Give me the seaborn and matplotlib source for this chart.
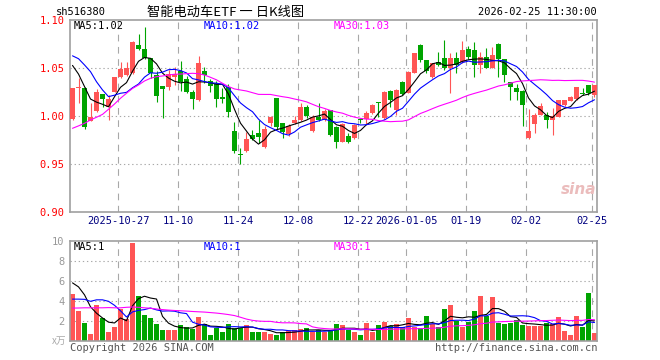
import numpy as np
import pandas as pd
import matplotlib
matplotlib.use("Agg")
import matplotlib.pyplot as plt
import seaborn as sns

# ---------------- data ----------------
opens = [0.997, 1.029, 1.030, 0.995, 1.006, 1.0233, 1.0094, 1.0257, 1.0406, 1.043,
         1.0448, 1.0743, 1.0698, 1.0604, 1.043, 1.0316, 1.031, 1.041, 1.047, 1.0385,
         1.0257, 1.017, 1.0476, 1.037, 1.035, 1.020, 1.031, 0.9847, 0.9604, 0.9639,
         0.9806, 0.9823, 0.9677, 0.9934, 1.0188, 0.9927, 0.9813, 0.9927, 0.996, 1.0094,
         0.985, 0.9997, 0.996, 1.0066, 0.9892, 0.9736, 0.9795, 0.977, 0.9965, 0.9969,
         1.003, 1.0142, 0.998, 1.0264, 1.0066, 1.0361, 1.0247, 1.0455, 1.0743, 1.0587,
         1.0413, 1.057, 1.0604, 1.050, 1.0604, 1.057, 1.0701, 1.0691, 1.0535, 1.0615,
         1.0507, 1.0754, 1.0594, 1.0354, 1.0295, 1.0264, 0.9771, 0.992, 1.0014, 1.0017,
         0.996, 0.9997, 1.0118, 1.0163, 1.0177, 1.0243, 1.0326, 1.022]
highs = [1.030, 1.040, 1.031, 1.0135, 1.028, 1.0235, 1.022, 1.041, 1.057, 1.057,
         1.078, 1.0858, 1.0927, 1.061, 1.047, 1.032, 1.048, 1.051, 1.058, 1.042,
         1.027, 1.063, 1.051, 1.039, 1.037, 1.030, 1.034, 0.9944, 0.9667, 0.984,
         0.9858, 0.9962, 0.990, 1.000, 1.019, 0.993, 0.992, 1.000, 1.0135, 1.012,
         1.0014, 1.0142, 1.008, 1.007, 0.990, 0.993, 0.983, 0.992, 0.998, 1.006,
         1.013, 1.0153, 1.026, 1.027, 1.028, 1.037, 1.047, 1.066, 1.075, 1.059,
         1.056, 1.0674, 1.080, 1.0656, 1.0667, 1.0788, 1.0733, 1.077, 1.067, 1.071,
         1.0726, 1.076, 1.060, 1.036, 1.034, 1.027, 1.0073, 1.003, 1.0135, 1.005,
         1.009, 1.017, 1.017, 1.021, 1.031, 1.029, 1.033, 1.033]
lows = [0.996, 1.0135, 0.9865, 0.995, 1.005, 1.0094, 0.996, 1.025, 1.040, 1.042,
        1.044, 1.069, 1.060, 1.040, 1.0145, 0.998, 1.027, 1.033, 1.026, 1.024,
        1.0073, 1.016, 1.035, 1.025, 1.0094, 1.0135, 0.9997, 0.962, 0.9503, 0.963,
        0.9755, 0.9726, 0.967, 0.990, 0.987, 0.977, 0.979, 0.992, 0.995, 0.998,
        0.984, 0.995, 0.995, 0.979, 0.9674, 0.973, 0.972, 0.976, 0.993, 0.992,
        1.002, 0.9997, 0.997, 1.010, 1.0014, 1.022, 1.024, 1.045, 1.057, 1.045,
        1.040, 1.052, 1.048, 1.024, 1.0448, 1.056, 1.060, 1.0406, 1.0448, 1.050,
        1.050, 1.0406, 1.036, 1.017, 1.017, 0.990, 0.9765, 0.9823, 1.001, 0.988,
        0.9806, 0.999, 1.011, 1.016, 1.017, 1.022, 1.022, 1.020]
closes = [1.029, 1.031, 0.9885, 0.9997, 1.0257, 1.0177, 1.018, 1.0406, 1.049, 1.050,
          1.077, 1.0698, 1.0604, 1.0448, 1.0212, 1.0288, 1.044, 1.044, 1.036, 1.0257,
          1.018, 1.056, 1.043, 1.032, 1.0177, 1.0177, 1.0049, 0.9639, 0.9600, 0.9764,
          0.976, 0.9788, 0.9865, 0.9997, 0.9892, 0.984, 0.990, 0.9962, 1.0094, 1.0007,
          0.9997, 0.996, 1.0059, 0.9806, 0.9736, 0.992, 0.9736, 0.991, 0.9962, 1.0038,
          1.0118, 1.0139, 1.0257, 1.017, 1.0274, 1.0233, 1.0465, 1.0656, 1.0587, 1.0476,
          1.0552, 1.0535, 1.050, 1.0604, 1.0535, 1.0691, 1.0615, 1.0535, 1.0615, 1.0507,
          1.0639, 1.0594, 1.043, 1.031, 1.0253, 1.0118, 0.9847, 1.0014, 1.0108, 0.996,
          1.0003, 1.017, 1.017, 1.0198, 1.031, 1.0236, 1.024, 1.0326]
volumes = [4.7, 3.0, 1.8, 0.7, 3.6, 2.3, 0.9, 1.4, 3.2, 2.2,
           9.8, 4.5, 2.6, 2.3, 1.7, 1.1, 1.1, 1.1, 1.6, 1.4,
           1.2, 2.4, 1.7, 0.6, 1.3, 0.9, 1.7, 1.3, 1.3, 1.6,
           0.9, 0.9, 0.9, 0.7, 0.6, 0.9, 1.0, 1.1, 1.13, 1.27,
           0.87, 1.07, 0.87, 1.07, 1.67, 1.57, 1.07, 0.87, 0.57, 1.77,
           0.87, 1.57, 1.87, 1.47, 1.67, 1.37, 2.27, 1.4, 1.27, 2.47,
           1.67, 1.37, 3.17, 3.57, 1.97, 1.4, 1.87, 2.97, 4.47, 2.47,
           4.37, 1.8, 1.67, 1.77, 2.07, 1.57, 1.47, 1.47, 1.47, 1.77,
           1.67, 2.37, 1.0, 0.57, 2.47, 1.37, 4.77, 0.77]

# moving-average values at the start of the window (read from the picture,
# their windows reach before the first visible day)
ma5_head = [1.053, 1.044, 1.031, 1.018]
ma10_head = [1.063, 1.060, 1.0535, 1.0465, 1.036, 1.0275, 1.0205, 1.022, 1.024]
ma30_head = [0.9875, 0.990, 0.9927, 0.9962, 0.999, 1.002, 1.0073, 1.0128, 1.0188, 1.024,
             1.029, 1.0326, 1.0368, 1.0396, 1.0413, 1.042, 1.043, 1.0438, 1.044, 1.0444,
             1.0448, 1.0444, 1.043, 1.0406, 1.038, 1.0344, 1.031, 1.0285, 1.0274]
vma5_head = [5.8, 5.4, 4.6, 3.4]
vma10_head = [4.17, 4.17, 4.15, 3.95, 4.1, 4.1, 3.95, 3.55, 3.0]
vma30_head = [3.27, 3.28, 3.3, 3.3, 3.3, 3.3, 3.32, 3.3, 3.3, 3.35,
              3.38, 3.35, 3.3, 3.25, 3.18, 3.12, 3.07, 3.03, 3.0, 2.97,
              2.93, 2.9, 2.87, 2.82, 2.77, 2.7, 2.62, 2.52, 2.35]

date_ticks = [8, 18, 28, 38, 48, 56, 66, 76, 87]
date_labels = ["2025-10-27", "11-10", "11-24", "12-08", "12-22",
               "2026-01-05", "01-19", "02-02", "02-25"]
price_ticks = [1.10, 1.05, 1.00, 0.95, 0.90]
vol_ticks = [10, 8, 6, 4, 2]

title_code = "sh516380"
title_name = "智能电动车ETF 一 日K线图"
title_time = "2026-02-25 11:30:00"
ma_price_text = ["MA5:1.02", "MA10:1.02", "MA30:1.03"]
ma_vol_text = ["MA5:1", "MA10:1", "MA30:1"]

# ---------------- derived ----------------
df = pd.DataFrame({"open": opens, "high": highs, "low": lows,
                   "close": closes, "vol": volumes})
df["i"] = np.arange(len(df))


def rolling_with_head(s, n, head):
    r = s.rolling(n).mean().to_numpy()
    r[:n - 1] = head
    return r


df["ma5"] = rolling_with_head(df["close"], 5, ma5_head)
df["ma10"] = rolling_with_head(df["close"], 10, ma10_head)
df["ma30"] = rolling_with_head(df["close"], 30, ma30_head)
df["vma5"] = rolling_with_head(df["vol"], 5, vma5_head)
df["vma10"] = rolling_with_head(df["vol"], 10, vma10_head)
df["vma30"] = rolling_with_head(df["vol"], 30, vma30_head)

RED = "#ff5555"
GREEN = "#00a400"
up = df["close"] >= df["open"]
colors = np.where(up, RED, GREEN)

# ---------------- figure ----------------
sns.set_theme(style="white")
plt.rcParams["font.family"] = ["DejaVu Sans Mono", "Noto Sans CJK SC"]
W, H = 660, 360
fig = plt.figure(figsize=(W / 100, H / 100), dpi=100)
fig.patch.set_facecolor("white")


def rect(x0, y0, x1, y1):
    return [x0 / W, 1 - y1 / H, (x1 - x0) / W, (y1 - y0) / H]


ax = fig.add_axes(rect(70, 20.3, 597, 212.3))
axv = fig.add_axes(rect(70, 241, 597, 340.7))

xl = (-(72.5 - 70) / 6, (597 - 72.5) / 6)
GRID = "#a8a8a8"
FRAME = "#a0a0a0"
LW = 0.8

for a in (ax, axv):
    a.set_facecolor("white")
    a.set_xlim(*xl)
    for sp in a.spines.values():
        sp.set_color(FRAME)
        sp.set_linewidth(1.2)
    for t in date_ticks:
        a.axvline(t - 0.35, color=GRID, lw=0.8, ls=(0, (6, 5)), zorder=0)
    a.tick_params(length=0)

# price panel
ax.set_ylim(0.90, 1.10)
for yv in [0.95, 1.00, 1.05]:
    ax.axhline(yv, color=GRID, lw=0.8, ls=(0, (1.2, 2.5)), zorder=0)

body_lo = np.minimum(df["open"], df["close"])
body_h = np.maximum(np.abs(df["close"] - df["open"]), 0.0009)
ax.vlines(df["i"], df["low"], df["high"], colors=colors, lw=0.8, zorder=2)
ax.bar(df["i"], body_h, bottom=body_lo, width=0.8, color=colors,
       linewidth=0, zorder=3)

sns.lineplot(data=df, x="i", y="ma5", ax=ax, color="black", lw=LW, zorder=4)
sns.lineplot(data=df, x="i", y="ma10", ax=ax, color="#0000ff", lw=LW, zorder=4)
sns.lineplot(data=df, x="i", y="ma30", ax=ax, color="#ff00ff", lw=LW, zorder=4)

ax.set_yticks(price_ticks)
ax.set_yticklabels([f"{p:.2f}" for p in price_ticks], fontsize=7.5)
for lab in ax.get_yticklabels():
    lab.set_color("#ff0000")
ax.tick_params(axis="y", pad=4)
ax.set_xticks([t - 0.35 for t in date_ticks])
ax.set_xticklabels(date_labels, fontsize=7.5, color="#000080")
ax.tick_params(axis="x", pad=3)
ax.set_xlabel("")
ax.set_ylabel("")

# volume panel
axv.set_ylim(0, 10)
for yv in [2, 4, 6, 8]:
    axv.axhline(yv, color=GRID, lw=0.8, ls=(0, (1.2, 2.5)), zorder=0)
axv.bar(df["i"], df["vol"], width=0.8, color=colors, linewidth=0, zorder=2)
sns.lineplot(data=df, x="i", y="vma5", ax=axv, color="black", lw=LW, zorder=4)
sns.lineplot(data=df, x="i", y="vma10", ax=axv, color="#0000ff", lw=LW, zorder=4)
sns.lineplot(data=df, x="i", y="vma30", ax=axv, color="#ff00ff", lw=LW, zorder=4)
axv.set_yticks(vol_ticks)
axv.set_yticklabels([str(v) for v in vol_ticks], fontsize=7.5, color="#999999")
axv.tick_params(axis="y", pad=4)
axv.set_xticks([])
axv.set_xlabel("")
axv.set_ylabel("")


def ftext(x, y, s, **kw):
    fig.text(x / W, 1 - y / H, s, **kw)


# header
ftext(56, 12, title_code, fontsize=7.5, va="center", ha="left", color="black")
ftext(226, 12, title_name, fontsize=9.5, va="center", ha="center",
      color="black", family=["Noto Sans CJK SC", "DejaVu Sans"])
ftext(597, 12, title_time, fontsize=7.5, va="center", ha="right", color="black")

# MA legends
ma_cols = ["black", "#0000ff", "#ff00ff"]
for k, x0 in enumerate([74, 204, 334]):
    ftext(x0, 26, ma_price_text[k], fontsize=7.5, va="center", ha="left",
          color=ma_cols[k])
    ftext(x0, 246.5, ma_vol_text[k], fontsize=7.5, va="center", ha="left",
          color=ma_cols[k])

ftext(66, 341, "x万", fontsize=7, va="center", ha="right", color="#aaaaaa",
      family=["Noto Sans CJK SC", "DejaVu Sans"])
ftext(70, 348, "Copyright 2026 SINA.COM", fontsize=7.5, va="center",
      ha="left", color="#555555")
ftext(597, 348, "http://finance.sina.com.cn", fontsize=7.5, va="center",
      ha="right", color="#555555")
ftext(579, 189, "sina", fontsize=11, va="center", ha="center",
      color="#ebbcbc", style="italic", weight="bold", family="DejaVu Sans")

fig.savefig("out.png", dpi=100, facecolor="white")
